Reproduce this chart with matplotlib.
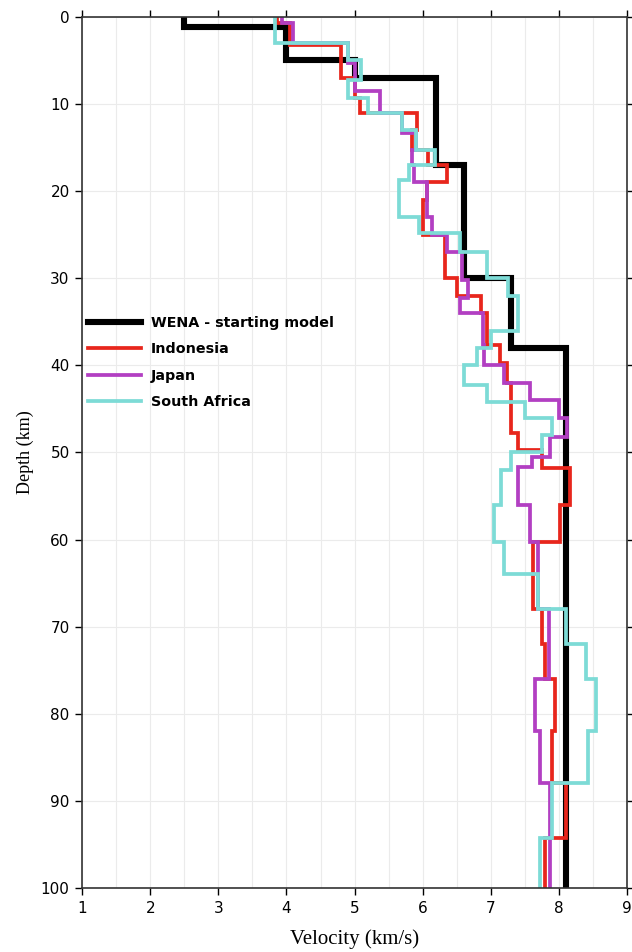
# velocity-depth profiles: WENA starting model and inverted models

import numpy as np
import matplotlib
matplotlib.use('Agg')
import matplotlib.pyplot as plt

# layer tops (km) and velocities (km/s); last layer runs to z_bottom
z_bottom = 100

wena_top = [0, 1.2, 5, 7, 17, 30, 38]
wena_vel = [2.5, 4.0, 5.0, 6.2, 6.6, 7.3, 8.1]

indo_top = [0, 0.7, 3.2, 7, 9.3, 11, 13, 15.3, 17, 19, 21, 25, 30, 32, 34, 37.7, 39.7,
            42, 47.8, 49.7, 51.8, 56, 60.3, 68, 72, 76, 82, 88, 94.3]
indo_vel = [3.86, 4.05, 4.8, 5.0, 5.08, 5.92, 5.85, 6.08, 6.36, 6.07, 6.0, 6.33, 6.5, 6.85,
            6.95, 7.14, 7.24, 7.3, 7.4, 7.75, 8.17, 8.02, 7.62, 7.75, 7.8, 7.95, 7.9, 8.1, 7.8]

japan_top = [0, 0.7, 3, 5.3, 8.5, 11, 13.3, 15.3, 17, 19, 23, 25, 27, 30.2, 32.3, 34, 37.7,
             40, 42, 44, 46, 48.2, 50.5, 51.7, 56, 60.3, 68, 76, 82, 88]
japan_vel = [3.94, 4.1, 4.9, 5.0, 5.37, 5.7, 5.9, 5.85, 5.87, 6.07, 6.14, 6.36, 6.58, 6.67,
             6.55, 6.88, 6.9, 7.2, 7.58, 8.0, 8.12, 7.87, 7.6, 7.4, 7.58, 7.7, 7.85, 7.65,
             7.72, 7.87]

safr_top = [0, 3, 5, 7.2, 9.3, 11, 13, 15.3, 17, 18.7, 23, 24.8, 27, 30, 32, 36, 38, 40,
            42.3, 44.2, 46, 48, 50, 52, 56, 60.3, 64, 68, 72, 76, 82, 88, 94.3]
safr_vel = [3.83, 4.9, 5.1, 4.9, 5.2, 5.7, 5.9, 6.18, 5.8, 5.65, 5.95, 6.55, 6.95, 7.25,
            7.4, 7.0, 6.8, 6.6, 6.95, 7.5, 7.9, 7.75, 7.3, 7.15, 7.05, 7.2, 7.7, 8.1, 8.4,
            8.55, 8.43, 7.9, 7.72]

models = [
    ('WENA - starting model', wena_top, wena_vel, 'black', 4.4),
    ('Indonesia', indo_top, indo_vel, '#e8261c', 2.7),
    ('Japan', japan_top, japan_vel, '#b23fc2', 2.7),
    ('South Africa', safr_top, safr_vel, '#7ddbd6', 2.7),
]


def step_path(tops, vels):
    # turn layered model into a staircase path (velocity vs depth)
    bots = list(tops[1:]) + [z_bottom]
    xs, ys = [], []
    for t, b, v in zip(tops, bots, vels):
        xs += [v, v]
        ys += [t, b]
    return np.array(xs), np.array(ys)


fig = plt.figure(figsize=(6.32, 9.52), dpi=100)
ax = fig.add_axes([0.13, 0.0672, 0.862, 0.915])

for name, tops, vels, c, lw in models:
    xs, ys = step_path(tops, vels)
    ax.plot(xs, ys, color=c, lw=lw, label=name, solid_joinstyle='miter')

ax.set_xlim(1, 9)
ax.set_ylim(100, 0)
ax.set_xticks(np.arange(1, 10, 1))
ax.set_xticks(np.arange(1, 9.01, 0.5), minor=True)
ax.set_yticks(np.arange(0, 101, 10))
ax.grid(True, which='both', axis='x', color='#ebebeb', lw=0.8)
ax.grid(True, which='major', axis='y', color='#ebebeb', lw=0.8)
ax.set_axisbelow(True)

ax.tick_params(which='major', direction='out', length=5, width=1, top=True, right=True,
               labelsize=11, pad=4)
ax.tick_params(which='minor', length=0)
for lab in ax.get_xticklabels() + ax.get_yticklabels():
    lab.set_fontname('DejaVu Sans')
for s in ax.spines.values():
    s.set_linewidth(1.2)
    s.set_color('#333333')

ax.set_xlabel('Velocity (km/s)', fontname='Liberation Serif', fontsize=15, labelpad=10)
ax.set_ylabel('Depth (km)', fontname='Liberation Serif', fontsize=13, labelpad=5)

leg = ax.legend(loc='upper left', bbox_to_anchor=(0.011, 0.657), frameon=False,
                borderpad=0, borderaxespad=0, handlelength=3.7, handletextpad=0.7,
                labelspacing=0.88, prop={'family': 'DejaVu Sans', 'weight': 'bold',
                                          'size': 10.3})

plt.savefig('out.png', dpi=100)
